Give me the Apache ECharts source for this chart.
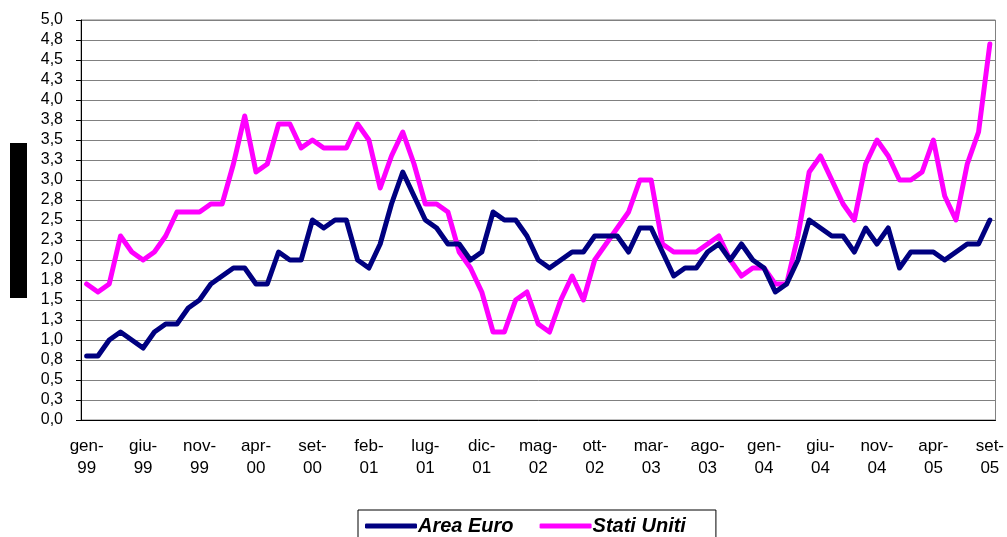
<!DOCTYPE html>
<html>
<head>
<meta charset="utf-8">
<script src="https://cdn.jsdelivr.net/npm/echarts@6/dist/echarts.min.js"></script>
<style>
  html, body { margin: 0; padding: 0; background: #fff; }
  #chart { width: 1007px; height: 537px; }
</style>
</head>
<body>
<div id="chart"></div>
<script>
// Monthly months gen-99 .. set-05
const monthNames = ['gen', 'feb', 'mar', 'apr', 'mag', 'giu', 'lug', 'ago', 'set', 'ott', 'nov', 'dic'];
const years = ['99', '00', '01', '02', '03', '04', '05'];
const categories = [];
years.forEach(function (y) {
  monthNames.forEach(function (m) { categories.push(m + '-\n' + y); });
});
categories.length = 81; // through set-05

const seriesNames = ['Area Euro', 'Stati Uniti'];

const areaEuro = [
  0.8, 0.8, 1.0, 1.1, 1.0, 0.9, 1.1, 1.2, 1.2, 1.4, 1.5, 1.7,
  1.8, 1.9, 1.9, 1.7, 1.7, 2.1, 2.0, 2.0, 2.5, 2.4, 2.5, 2.5,
  2.0, 1.9, 2.2, 2.7, 3.1, 2.8, 2.5, 2.4, 2.2, 2.2, 2.0, 2.1,
  2.6, 2.5, 2.5, 2.3, 2.0, 1.9, 2.0, 2.1, 2.1, 2.3, 2.3, 2.3,
  2.1, 2.4, 2.4, 2.1, 1.8, 1.9, 1.9, 2.1, 2.2, 2.0, 2.2, 2.0,
  1.9, 1.6, 1.7, 2.0, 2.5, 2.4, 2.3, 2.3, 2.1, 2.4, 2.2, 2.4,
  1.9, 2.1, 2.1, 2.1, 2.0, 2.1, 2.2, 2.2, 2.5
];

const statiUniti = [
  1.7, 1.6, 1.7, 2.3, 2.1, 2.0, 2.1, 2.3, 2.6, 2.6, 2.6, 2.7,
  2.7, 3.2, 3.8, 3.1, 3.2, 3.7, 3.7, 3.4, 3.5, 3.4, 3.4, 3.4,
  3.7, 3.5, 2.9, 3.3, 3.6, 3.2, 2.7, 2.7, 2.6, 2.1, 1.9, 1.6,
  1.1, 1.1, 1.5, 1.6, 1.2, 1.1, 1.5, 1.8, 1.5, 2.0, 2.2, 2.4,
  2.6, 3.0, 3.0, 2.2, 2.1, 2.1, 2.1, 2.2, 2.3, 2.0, 1.8, 1.9,
  1.9, 1.7, 1.7, 2.3, 3.1, 3.3, 3.0, 2.7, 2.5, 3.2, 3.5, 3.3,
  3.0, 3.0, 3.1, 3.5, 2.8, 2.5, 3.2, 3.6, 4.7
];

// Y tick labels: 0 .. 5 in quarter steps, shown with one decimal and a comma
const yTickLabels = [
  '0,0', '0,3', '0,5', '0,8', '1,0', '1,3', '1,5', '1,8', '2,0', '2,3', '2,5',
  '2,8', '3,0', '3,3', '3,5', '3,8', '4,0', '4,3', '4,5', '4,8', '5,0'
];

const colors = ['#000080', '#FF00FF'];
const fontFamily = '"Liberation Sans", Arial, sans-serif';

const chart = echarts.init(document.getElementById('chart'), null, { renderer: 'canvas' });

chart.setOption({
  animation: false,
  backgroundColor: '#ffffff',
  color: colors,
  grid: { left: 81, right: 10, top: 20, bottom: 117, containLabel: false,
          show: true, borderColor: '#808080', borderWidth: 1 },
  legend: {
    data: seriesNames,
    left: 358,
    top: 510,
    padding: [6, 30, 12, 7],
    itemWidth: 52,
    itemHeight: 5,
    itemGap: 26,
    icon: 'roundRect',
    borderColor: '#000',
    borderWidth: 1,
    textStyle: { fontFamily: fontFamily, fontSize: 20, fontWeight: 'bold', fontStyle: 'italic', color: '#000', padding: [0, 0, 0, -4] }
  },
  xAxis: {
    type: 'category',
    data: categories,
    boundaryGap: true,
    axisLine: { lineStyle: { color: '#000', width: 1 } },
    axisTick: { interval: 4, length: 5, lineStyle: { color: '#000' } },
    axisLabel: {
      interval: 4,
      margin: 15,
      fontFamily: fontFamily,
      fontSize: 17,
      lineHeight: 22,
      color: '#000'
    },
    splitLine: { show: false }
  },
  yAxis: {
    type: 'value',
    min: 0,
    max: 5,
    interval: 0.25,
    axisLine: { show: true, lineStyle: { color: '#000', width: 1 } },
    axisTick: { show: true, length: 5, lineStyle: { color: '#000' } },
    axisLabel: {
      margin: 18,
      fontFamily: fontFamily,
      fontSize: 16,
      color: '#000',
      formatter: function (v) { return yTickLabels[Math.round(v / 0.25)]; }
    },
    splitLine: { show: true, lineStyle: { color: '#808080', width: 1 } }
  },
  series: [
    {
      name: seriesNames[0], type: 'line', data: areaEuro, symbol: 'none',
      lineStyle: { width: 5, color: colors[0], join: 'round', cap: 'round' }, z: 3
    },
    {
      name: seriesNames[1], type: 'line', data: statiUniti, symbol: 'none',
      lineStyle: { width: 5, color: colors[1], join: 'round', cap: 'round' }, z: 2
    }
  ],
  graphic: [
    { type: 'rect', left: 10, top: 143, shape: { width: 17, height: 155 }, style: { fill: '#000' } }
  ]
});
</script>
</body>
</html>
